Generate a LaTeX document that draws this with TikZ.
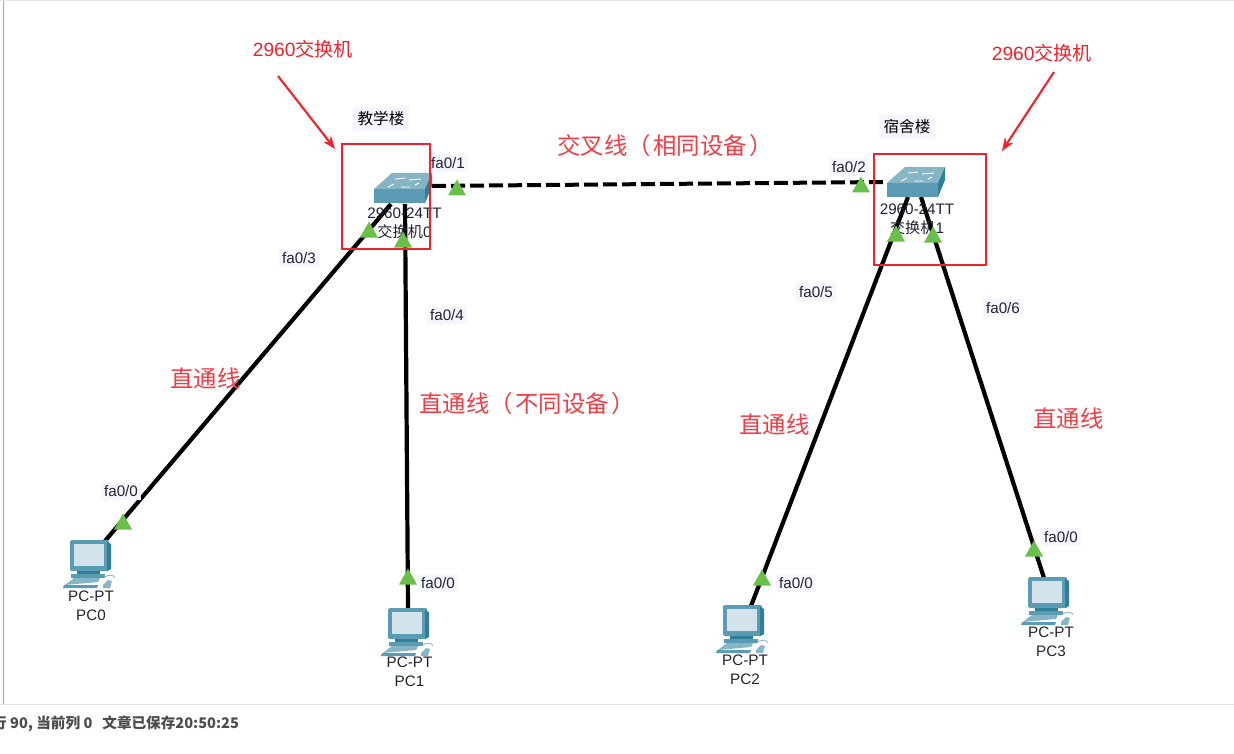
\documentclass[tikz,border=0pt]{standalone}
\usepackage{fontspec}
\setmainfont{Liberation Sans}
\newfontfamily\cjk{Noto Sans CJK SC}
\usetikzlibrary{calc,arrows.meta}
\definecolor{redann}{HTML}{F0222C}
\definecolor{redtxt}{HTML}{F23D45}
\definecolor{lab}{HTML}{F6F7FE}
\definecolor{linkg}{HTML}{6ABF4B}
\definecolor{swtop}{HTML}{86B5C6}
\definecolor{swfront}{HTML}{5B9BB3}
\definecolor{swside}{HTML}{2F7F97}
\definecolor{scrn}{HTML}{D2E3EC}
\definecolor{txtc}{HTML}{222233}
\tikzset{
 link/.style={line width=4.2pt,black},
 linkd/.style={line width=4pt,black,dash pattern=on 14pt off 5pt},
 port/.style={fill=lab,inner sep=3.5pt,font=\fontsize{15.2}{17}\selectfont,text=txtc},
 bldg/.style={fill=lab,inner sep=5pt,font=\cjk\fontsize{15.6}{18}\selectfont,text=black},
 devlab/.style={align=center,font=\fontsize{15.2}{19}\selectfont,text=txtc},
 note/.style={text=redann,font=\fontsize{19.2}{22}\selectfont},
 bignote/.style={text=redtxt,font=\cjk\fontsize{23.4}{26}\selectfont},
 redbox/.style={draw=redann,line width=2pt},
 redarrow/.style={draw=redann,line width=2.1pt,-{Stealth[length=13pt,width=10pt]}},
}
\newcommand{\tri}[1]{\fill[linkg] ($(#1)+(0,-8.5)$) -- ($(#1)+(9,7.5)$) -- ($(#1)+(-9,7.5)$) -- cycle;}
\newcommand{\swicon}[1]{%
 \begin{scope}[shift={(#1)}]
  \fill[swtop] (-29,0) -- (-11,-16) -- (29,-16) -- (22,0) -- cycle;
  \fill[swfront] (-29,0) rectangle (22,14);
  \fill[swside] (22,0) -- (29,-16) -- (29,-3) -- (22,14) -- cycle;
  \draw[white,line width=.9pt] (-15,-2) -- (-9,-5) (-2,-2) -- (7,-2) (6,-9) -- (18,-10) (-8,-10) -- (2,-11) (12,-4)--(16,-6);
 \end{scope}}
\newcommand{\pcicon}[1]{%
 \begin{scope}[shift={(#1)}]
  \fill[swfront,rounded corners=1.5pt] (-20,-22) rectangle (19,9);
  \fill[swside] (17,-20) -- (21,-18) -- (21,7) -- (17,9) -- cycle;
  \fill[scrn] (-16,-18) rectangle (14,4);
  \fill[swside] (-13,9) rectangle (10,12);
  \fill[swfront] (-19,12) rectangle (15,16);
  \fill[swtop] (-16,16) -- (10,16) -- (8,20) -- (-25,23) -- (-20,19) -- cycle;
  \fill[swfront] (-26,23) -- (8,23) -- (7,26) -- (-27,26) -- cycle;
  \fill[swtop] (13,23) -- (18,18) -- (22,19) -- (20,26) -- (13,26) -- cycle;
  \draw[swtop,line width=.8pt] (14,15) .. controls (20,12) and (24,13) .. (25,16);
 \end{scope}}
\begin{document}
\begin{tikzpicture}[x=1pt,y=-1pt]
\useasboundingbox (0,0) rectangle (1234,754);
\fill[white] (0,0) rectangle (1234,754);
\draw[gray!70,line width=1.6pt] (3.5,0) -- (3.5,704);
\draw[gray!25,line width=1.2pt] (0,704.5) -- (1234,704.5);
\draw[gray!20,line width=.8pt] (0,.5) -- (1234,.5);
\coordinate (s0l) at (391,204);
\coordinate (s0b) at (405,204);
\coordinate (s0r) at (432,186);
\coordinate (s1l) at (885,182);
\coordinate (s1a) at (908,197);
\coordinate (s1b) at (921,197);
\coordinate (p0) at (105,541);
\coordinate (p1) at (408,608);
\coordinate (p2) at (751,606);
\coordinate (p3) at (1044,578);
\draw[link] (s0l) -- (p0);
\draw[link] (s0b) -- (p1);
\draw[link] (s1a) -- (p2);
\draw[link] (s1b) -- (p3);
\draw[linkd] (s0r) -- (s1l);
\swicon{403,189}
\swicon{916,183}
\pcicon{90,562}
\pcicon{408,630}
\pcicon{743,627}
\pcicon{1048,599}
\node[devlab] (d0) at (404.5,223.5) {2960-24TT\\{\cjk 交换机}0};
\node[devlab] (d1) at (917,219.5) {2960-24TT\\{\cjk 交换机}1};
\node[devlab] (dp0) at (91,605.5) {PC-PT\\PC0};
\node[devlab] (dp1) at (409.5,672) {PC-PT\\PC1};
\node[devlab] (dp2) at (745,670) {PC-PT\\PC2};
\node[devlab] (dp3) at (1051,642) {PC-PT\\PC3};
\tri{457,188}\tri{861,185}\tri{369,230}\tri{403,240}\tri{896,234}\tri{933,235}\tri{123,522}\tri{408,577}\tri{762,578}\tri{1034,549}
\node[port] (f1) at (448,163) {fa0/1};
\node[port] (f2) at (849,167) {fa0/2};
\node[port] (f3) at (299,258) {fa0/3};
\node[port] (f4) at (447,315) {fa0/4};
\node[port] (f5) at (816,292) {fa0/5};
\node[port] (f6) at (1003,308) {fa0/6};
\node[port] (f00) at (121,491) {fa0/0};
\node[port] (f01) at (438,583) {fa0/0};
\node[port] (f02) at (796,583) {fa0/0};
\node[port] (f03) at (1061,537) {fa0/0};
\node[bldg] (b0) at (381,119) {教学楼};
\node[bldg] (b1) at (907,127) {宿舍楼};
\node[redbox,minimum width=88pt,minimum height=104pt,inner sep=0pt] (box0) at (386,196.5) {};
\node[redbox,minimum width=112pt,minimum height=110pt,inner sep=0pt] (box1) at (930,209.5) {};
\node[note] (n0) at (303,49) {2960{\cjk 交换机}};
\node[note] (n1) at (1042,53) {2960{\cjk 交换机}};
\coordinate (n0e) at (335,149);
\coordinate (n1e) at (1002,151);
\draw[redarrow] (278,76) -- (n0e);
\draw[redarrow] (1054,72) -- (n1e);
\node[bignote] (t0) at (665,145.5) {交叉线（\hspace{2.5pt}相同设备\hspace{2.5pt}）};
\node[bignote] (t1) at (205.5,378.5) {直通线};
\node[bignote] (t2) at (527,403.5) {直通线（\hspace{2.5pt}不同设备\hspace{2.5pt}）};
\node[bignote] (t3) at (774.5,424.5) {直通线};
\node[bignote] (t4) at (1068.5,418.5) {直通线};
\node[anchor=west,inner sep=0pt,text=black!70,font=\cjk\bfseries\fontsize{14.6}{16}\selectfont] (st) at (-8,724) {行 90, 当前列 0\hspace{10pt}文章已保存20:50:25};
\end{tikzpicture}
\end{document}
